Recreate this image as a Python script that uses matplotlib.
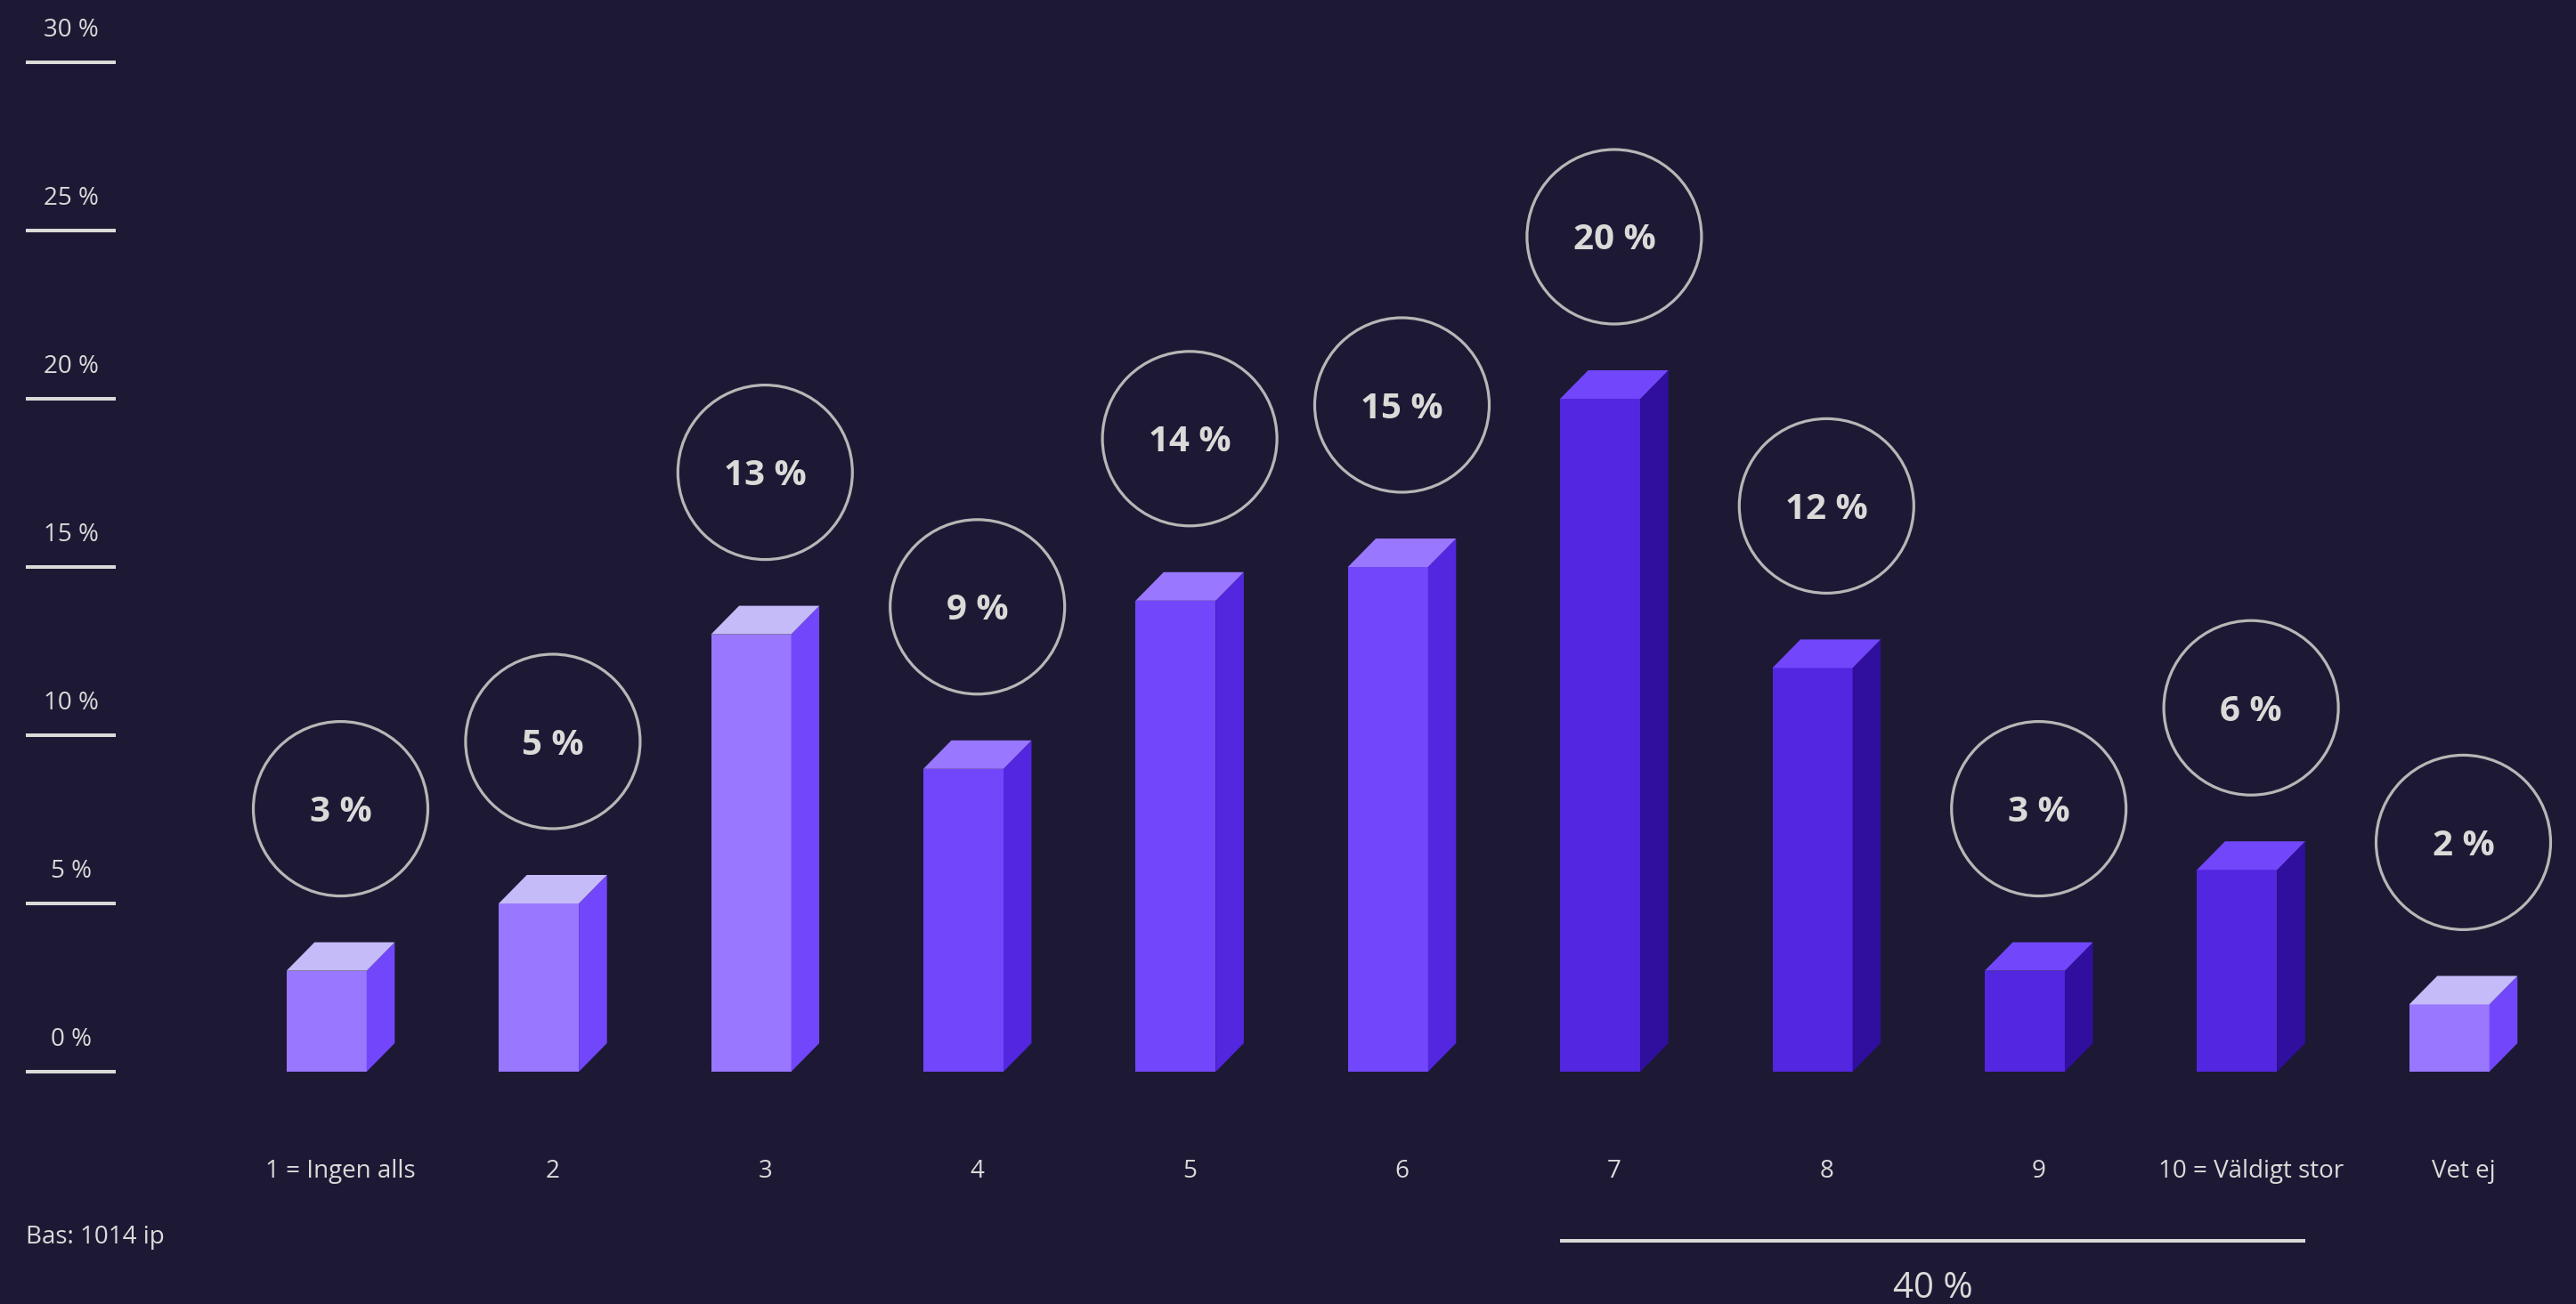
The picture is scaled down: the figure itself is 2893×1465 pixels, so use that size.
import matplotlib
matplotlib.use("Agg")
import matplotlib.pyplot as plt
from matplotlib.patches import Polygon

# ---- data ----
categories = ["1 = Ingen alls", "2", "3", "4", "5", "6", "7", "8", "9",
              "10 = Väldigt stor", "Vet ej"]
values = [3, 5, 13, 9, 14, 15, 20, 12, 3, 6, 2]
shade_group = [0, 0, 0, 1, 1, 1, 2, 2, 2, 2, 0]
y_ticks = [0, 5, 10, 15, 20, 25, 30]
base_note = "Bas: 1014 ip"
bracket_first, bracket_last = 6, 9          # categories 7 .. 10
bracket_label = "40 %"

# ---- style ----
BG = "#1d1935"
TEXT = "#dcdad8"
RING = "#b8b6b6"
# (front, side, top) for each shade group
palettes = {
    0: ("#9977ff", "#7247fb", "#c6bbf9"),
    1: ("#7247fb", "#5326e0", "#9977ff"),
    2: ("#5326e0", "#300e9e", "#7247fb"),
}
FONT = ["Open Sans", "DejaVu Sans"]

W, H, DPI = 2893, 1465, 100
# pixel layout of the plotting frame
X0_PX, STEP_PX = 382.5, 238.4      # centre of first category, spacing
Y0_PX, PCT_PX = 1204.0, 37.8       # baseline row, pixels per percent

fig = plt.figure(figsize=(W / DPI, H / DPI), dpi=DPI, facecolor=BG)
ax = fig.add_axes([0, 0, 1, 1])
ax.set_facecolor(BG)
ax.set_xlim(-X0_PX / STEP_PX, (W - X0_PX) / STEP_PX)
ax.set_ylim((Y0_PX - H) / PCT_PX, Y0_PX / PCT_PX)
ax.axis("off")


def px_x(px):
    return (px - X0_PX) / STEP_PX


def px_dy(px):
    return px / PCT_PX


FW = 90 / STEP_PX        # front face width
DX = 31.5 / STEP_PX      # depth offset, horizontal
DY = px_dy(32)           # depth offset, vertical

xs = list(range(len(categories)))
lefts = [x - (FW + DX) / 2 for x in xs]
fronts = [palettes[g][0] for g in shade_group]

# front faces
ax.bar(lefts, values, width=FW, align="edge", color=fronts, linewidth=0, zorder=3)

# side and top faces
for left, v, g in zip(lefts, values, shade_group):
    _, side_c, top_c = palettes[g]
    r = left + FW
    side = Polygon([(r, 0), (r + DX, DY), (r + DX, v + DY), (r, v)],
                   closed=True, facecolor=side_c, edgecolor="none", zorder=3)
    top = Polygon([(left, v), (left + DX, v + DY), (r + DX, v + DY), (r, v)],
                  closed=True, facecolor=top_c, edgecolor="none", zorder=3)
    ax.add_patch(side)
    ax.add_patch(top)

# value rings with labels
ring_off = px_dy(182)
ring_diam_pt = 196 * 72 / DPI
ax.scatter(xs, [v + ring_off for v in values], s=ring_diam_pt ** 2,
           facecolors="none", edgecolors=RING, linewidths=3.2 * 72 / DPI, zorder=4)
for x, v in zip(xs, values):
    ax.text(x, v + ring_off - px_dy(14.5), f"{v} %", ha="center", va="baseline",
            fontsize=29, fontweight="bold", color=TEXT, family=FONT, zorder=5)

# y scale: short rules with labels above them
ax.hlines(y_ticks, px_x(29), px_x(130), color=TEXT, linewidth=4 * 72 / DPI)
for t in y_ticks:
    ax.text(px_x(80), t + px_dy(29), f"{t} %", ha="center", va="baseline",
            fontsize=20, fontweight="medium", color=TEXT, family=FONT)

# category labels
for x, c in zip(xs, categories):
    ax.text(x, -px_dy(119), c, ha="center", va="baseline",
            fontsize=20, fontweight="medium", color=TEXT, family=FONT)

# base note
ax.text(px_x(29), -px_dy(193), base_note, ha="left", va="baseline",
        fontsize=20, fontweight="medium", color=TEXT, family=FONT)

# bracket summarising the top categories
bx0 = lefts[bracket_first]
bx1 = lefts[bracket_last] + FW + DX
ax.hlines(-px_dy(190), bx0, bx1, color=TEXT, linewidth=4 * 72 / DPI)
ax.text((bx0 + bx1) / 2, -px_dy(254), bracket_label, ha="center", va="baseline",
        fontsize=29, color=TEXT, family=FONT)

fig.savefig("out.png", dpi=DPI, facecolor=BG)
